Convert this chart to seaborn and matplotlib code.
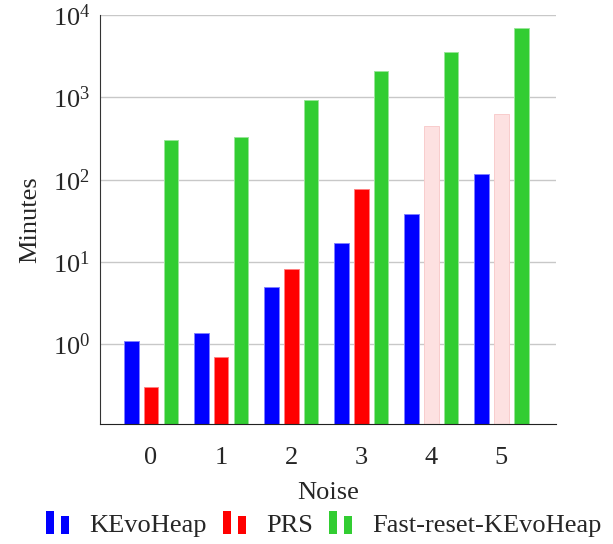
import pandas as pd
import seaborn as sns
import matplotlib.pyplot as plt
from matplotlib.patches import Patch, Rectangle
from matplotlib.legend_handler import HandlerBase
from matplotlib.ticker import LogLocator, NullFormatter

# Data (minutes, log scale)
noise = [0, 1, 2, 3, 4, 5]
kevoheap = [1.08, 1.37, 4.96, 17.2, 38.5, 116]
prs = [0.30, 0.69, 8.2, 77.6, 447, 638]
fast_reset = [301, 331, 919, 2090, 3570, 7000]
# PRS runs at noise 4 and 5 are drawn faded
prs_faded = [False, False, False, False, True, True]

methods = ["KEvoHeap", "PRS", "Fast-reset-KEvoHeap"]
colors = {"KEvoHeap": "#0000ff", "PRS": "#ff0000", "Fast-reset-KEvoHeap": "#32cd32"}
edge_colors = {"KEvoHeap": "#8080ff", "PRS": "#ff8080", "Fast-reset-KEvoHeap": "#99e699"}

rows = []
for m, vals in zip(methods, [kevoheap, prs, fast_reset]):
    for n, v in zip(noise, vals):
        rows.append({"Noise": n, "Minutes": v, "Method": m})
df = pd.DataFrame(rows)

sns.set_style("white")
plt.rcParams["font.family"] = ["Liberation Serif", "DejaVu Serif"]
plt.rcParams["mathtext.fontset"] = "stix"
FS = 19


class DoubleBarHandler(HandlerBase):
    # pgfplots style ybar legend image: two little bars
    def create_artists(self, legend, orig_handle, xdescent, ydescent,
                       width, height, fontsize, trans):
        fc = orig_handle.get_facecolor()
        bw = width * 0.32
        r1 = Rectangle((-xdescent, -ydescent - 0.1 * height), bw, height * 1.2,
                       facecolor=fc, edgecolor="none", transform=trans)
        r2 = Rectangle((-xdescent + width * 0.62, -ydescent - 0.1 * height), bw, height * 0.95,
                       facecolor=fc, edgecolor="none", transform=trans)
        return [r1, r2]


fig, ax = plt.subplots(figsize=(6.13, 5.44), dpi=100)
fig.subplots_adjust(left=0.163, right=0.907, top=0.972, bottom=0.22)

ax.set_yscale("log")
sns.barplot(data=df, x="Noise", y="Minutes", hue="Method", hue_order=methods,
            palette=colors, saturation=1, width=0.85, gap=0.26, legend=False, ax=ax)

for container, m in zip(ax.containers, methods):
    for i, patch in enumerate(container.patches):
        patch.set_edgecolor(edge_colors[m])
        patch.set_linewidth(0.7)
        if m == "PRS" and prs_faded[i]:
            patch.set_facecolor("#fde1e1")
            patch.set_edgecolor("#f8cccc")

ax.set_ylim(0.106, 1e4)
ax.set_xlim(-0.73, 5.78)

ax.yaxis.set_major_locator(LogLocator(base=10, numticks=10))
ax.yaxis.set_minor_locator(LogLocator(base=10, subs=range(2, 10), numticks=20))
ax.yaxis.set_minor_formatter(NullFormatter())
ax.grid(axis="y", which="major", color="#c8c8c8", linewidth=1.0)
ax.set_axisbelow(True)

ax.tick_params(axis="y", which="major", direction="in", length=7, width=1,
               color="#555555", labelsize=FS, pad=7)
ax.tick_params(axis="y", which="minor", direction="in", length=5, width=0.8,
               color="#777777")
ax.tick_params(axis="x", length=0, labelsize=FS, pad=16)

for s in ["top", "right"]:
    ax.spines[s].set_visible(False)
ax.spines["left"].set_color("#333333")
ax.spines["bottom"].set_color("#222222")

ax.set_xlabel("Noise", fontsize=FS, labelpad=10)
ax.set_ylabel("Minutes", fontsize=FS, labelpad=8)

handles = [Patch(facecolor=colors[m]) for m in methods]
fig.legend(handles, methods, loc="center", bbox_to_anchor=(0.528, 0.035), ncol=3,
           frameon=False, fontsize=FS, handlelength=0.95, handletextpad=0.7,
           columnspacing=0.6, handler_map={Patch: DoubleBarHandler()})

fig.savefig("out.png", dpi=100)
